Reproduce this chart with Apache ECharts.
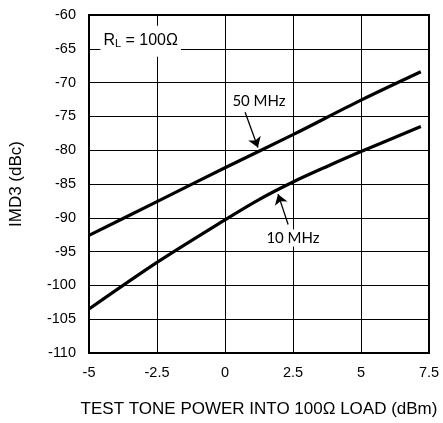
<!DOCTYPE html>
<html><head><meta charset="utf-8">
<script src="https://cdn.jsdelivr.net/npm/echarts@6/dist/echarts.min.js"></script>
<style>html,body{margin:0;padding:0;background:#fff}#c{width:443px;height:423px}</style>
</head><body><div id="c"></div>
<script>
const xTicks = [-5, -2.5, 0, 2.5, 5, 7.5];
const yTicks = [-60, -65, -70, -75, -80, -85, -90, -95, -100, -105, -110];
const power = [-5, -2.5, 0, 2.5, 5, 7.2];
const imd50 = [-92.6, -87.6, -82.6, -77.7, -72.6, -68.4];
const power10 = [-5, -2.5, 0, 1.25, 2.5, 3.75, 5, 7.2];
const imd10 = [-103.5, -96.6, -90.3, -87.3, -84.7, -82.4, -80.2, -76.5];
const arrow50 = [[0.74, -74.4], [1.21, -79.6]];
const arrow10 = [[2.32, -91.0], [1.95, -86.5]];
const label50 = [1.25, -72.8];
const label10 = [2.5, -93.0];
const rlLabel = [-3.1, -63.9];

const chart = echarts.init(document.getElementById('c'));
const font = '"Liberation Sans", Arial, sans-serif';
const annFont = 'Lato, sans-serif';
function arrow(pts){
  return {
    silent:true, symbol:['none','arrow'], symbolSize:10,
    lineStyle:{color:'#000', width:1.3, type:'solid'},
    label:{show:false},
    data:[[{coord:pts[0]},{coord:pts[1]}]]
  };
}
chart.setOption({
  animation:false,
  grid:{left:89, right:14, top:15, bottom:69, show:true, borderColor:'#000', borderWidth:2},
  xAxis:{type:'value', min:-5, max:7.5, interval:2.5,
    name:'TEST TONE POWER INTO 100\u03A9 LOAD (dBm)', nameLocation:'middle', nameGap:48,
    nameTextStyle:{fontFamily:font, fontSize:17, color:'#000'},
    axisLine:{show:true, onZero:false, lineStyle:{color:'#000', width:2}},
    axisTick:{show:false},
    axisLabel:{fontFamily:font, fontSize:14.5, color:'#000', margin:12,
      formatter:v=>xTicks.includes(v)?String(v):''},
    splitLine:{show:true, lineStyle:{color:'#000', width:1}}
  },
  yAxis:{type:'value', min:-110, max:-60, interval:5,
    name:'IMD3 (dBc)', nameLocation:'middle', nameGap:64, nameRotate:90,
    nameTextStyle:{fontFamily:font, fontSize:17, color:'#000'},
    axisLine:{show:true, onZero:false, lineStyle:{color:'#000', width:2}},
    axisTick:{show:false},
    axisLabel:{fontFamily:font, fontSize:14.5, color:'#000', margin:13,
      formatter:v=>yTicks.includes(v)?String(v):''},
    splitLine:{show:true, lineStyle:{color:'#000', width:1}}
  },
  series:[
    {type:'line', name:'50 MHz', data:power.map((x,i)=>[x,imd50[i]]), smooth:0.3,
     showSymbol:false, lineStyle:{color:'#000', width:3.2}, z:3,
     markLine:arrow(arrow50),
     markPoint:{silent:true, symbol:'circle', symbolSize:0,
       data:[{coord:label50, label:{show:true, formatter:'50 MHz', fontFamily:annFont, fontSize:15, color:'#000', position:'inside', backgroundColor:'#fff', padding:[1,2]}},
             {coord:rlLabel, label:{show:true, position:'inside', backgroundColor:'#fff', padding:[6,3,7,3],
               formatter:'{a|R}{b|L}{a| = 100\u03A9}',
               rich:{a:{fontFamily:font, fontSize:16, color:'#000'}, b:{fontFamily:font, fontSize:11, color:'#000', verticalAlign:'bottom', padding:[7,0,0,0]}}}}]}
    },
    {type:'line', name:'10 MHz', data:power10.map((x,i)=>[x,imd10[i]]), smooth:0.3,
     showSymbol:false, lineStyle:{color:'#000', width:3.2}, z:3,
     markLine:arrow(arrow10),
     markPoint:{silent:true, symbol:'circle', symbolSize:0,
       data:[{coord:label10, label:{show:true, formatter:'10 MHz', fontFamily:annFont, fontSize:15, color:'#000', position:'inside', backgroundColor:'#fff', padding:[1,2]}}]}
    }
  ]
});
</script></body></html>
